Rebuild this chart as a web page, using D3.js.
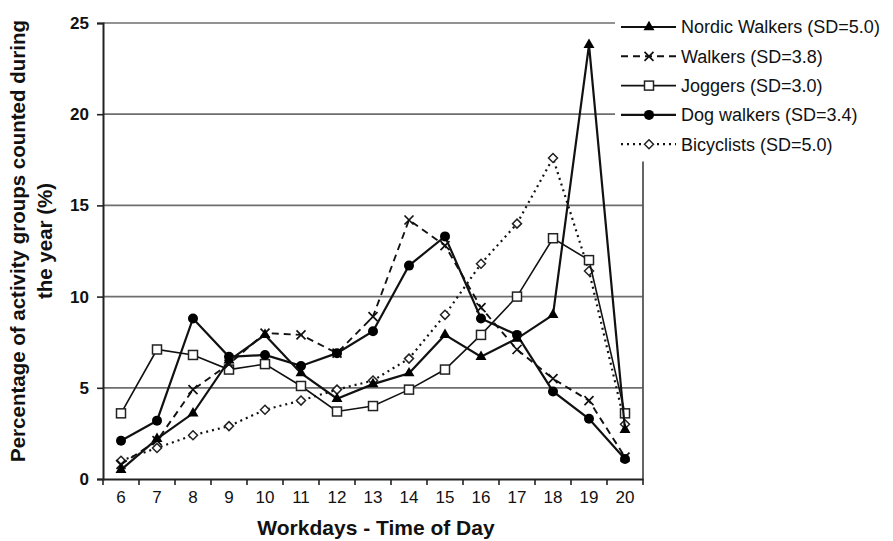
<!DOCTYPE html>
<html>
<head>
<meta charset="utf-8">
<script src="https://cdn.jsdelivr.net/npm/d3@7"></script>
<style>
  body { margin: 0; background: #fff; }
  text { font-family: "Liberation Sans", Arial, sans-serif; fill: #111; }
</style>
</head>
<body>
<div id="chart"></div>
<script>

var hours = [6, 7, 8, 9, 10, 11, 12, 13, 14, 15, 16, 17, 18, 19, 20];

var nordic   = [0.5, 2.2, 3.6, 6.5, 7.9, 5.8, 4.4, 5.2, 5.8, 7.9, 6.7, 7.7, 9.0, 23.8, 2.7];
var walkers  = [0.8, 2.1, 4.9, 6.3, 8.0, 7.9, 6.9, 8.9, 14.2, 12.8, 9.4, 7.1, 5.5, 4.3, 1.2];
var joggers  = [3.6, 7.1, 6.8, 6.0, 6.3, 5.1, 3.7, 4.0, 4.9, 6.0, 7.9, 10.0, 13.2, 12.0, 3.6];
var dogs     = [2.1, 3.2, 8.8, 6.7, 6.8, 6.2, 6.9, 8.1, 11.7, 13.3, 8.8, 7.9, 4.8, 3.3, 1.1];
var bikes    = [1.0, 1.7, 2.4, 2.9, 3.8, 4.3, 4.9, 5.4, 6.6, 9.0, 11.8, 14.0, 17.6, 11.4, 3.0];

var seriesNames = ["Nordic Walkers (SD=5.0)", "Walkers (SD=3.8)", "Joggers (SD=3.0)",
                   "Dog walkers (SD=3.4)", "Bicyclists (SD=5.0)"];
var yTicks = [0, 5, 10, 15, 20, 25];

var series = [
  { name: seriesNames[0], values: nordic,  marker: "triangle", dash: null,  width: 2.2 },
  { name: seriesNames[1], values: walkers, marker: "cross",    dash: "7,5", width: 1.9 },
  { name: seriesNames[2], values: joggers, marker: "square",   dash: null,  width: 1.6 },
  { name: seriesNames[3], values: dogs,    marker: "circle",   dash: null,  width: 2.2 },
  { name: seriesNames[4], values: bikes,   marker: "diamond",  dash: "2,4", width: 2.2 }
];

var margin = { left: 103, right: 250, top: 23, bottom: 62 };
var width = 893 - margin.left - margin.right;
var height = 541 - margin.top - margin.bottom;

var svg = d3.select("#chart")
  .append("svg")
  .attr("width", 893)
  .attr("height", 541);

var g = svg.append("g")
  .attr("transform", "translate(" + margin.left + "," + margin.top + ")");

var x = d3.scaleBand()
  .domain(hours)
  .range([0, width]);

var y = d3.scaleLinear()
  .domain([0, 25])
  .range([height, 0]);

// gridlines (top two stop short where the legend sits)
g.selectAll(".grid")
  .data(yTicks.filter(function(d){ return d > 0; }))
  .enter().append("line")
  .attr("class", "grid")
  .attr("x1", 0)
  .attr("x2", function(d){ return d >= 20 ? width - 28 : width; })
  .attr("y1", function(d){ return y(d); })
  .attr("y2", function(d){ return y(d); })
  .attr("stroke", "#6e6e6e")
  .attr("stroke-width", 1.7);

// right frame edge
g.append("line")
  .attr("x1", width).attr("x2", width)
  .attr("y1", y(17.4)).attr("y2", height)
  .attr("stroke", "#555")
  .attr("stroke-width", 1.8);

var xAxis = g.append("g")
  .attr("transform", "translate(0," + height + ")")
  .call(d3.axisBottom(x).tickSize(0).tickPadding(12));

xAxis.select(".domain").attr("stroke", "#222").attr("stroke-width", 2);
xAxis.selectAll("text")
  .style("font-size", "17px")
  .style("font-family", "'Liberation Sans', Arial, sans-serif")
  .attr("fill", "#111");

// x ticks sit on the band edges
xAxis.selectAll(".edge")
  .data(hours.concat([21]))
  .enter().append("line")
  .attr("class", "edge")
  .attr("x1", function(d, i){ return i * x.step(); })
  .attr("x2", function(d, i){ return i * x.step(); })
  .attr("y1", 0).attr("y2", 6)
  .attr("stroke", "#222")
  .attr("stroke-width", 1.6);

var yAxis = g.append("g")
  .call(d3.axisLeft(y).tickValues(yTicks).tickSize(6).tickPadding(8));

yAxis.select(".domain").attr("stroke", "#222").attr("stroke-width", 2);
yAxis.selectAll("line").attr("stroke", "#222").attr("stroke-width", 1.6);
yAxis.selectAll("text")
  .style("font-size", "17px")
  .style("font-weight", "bold")
  .style("font-family", "'Liberation Sans', Arial, sans-serif")
  .attr("fill", "#222");

g.append("text")
  .attr("x", 273)
  .attr("y", height + 56)
  .style("text-anchor", "middle")
  .style("font-size", "21px")
  .style("font-weight", "bold")
  .text("Workdays - Time of Day");

var ylab = g.append("text")
  .attr("transform", "rotate(-90)")
  .style("text-anchor", "middle")
  .style("font-size", "20.5px")
  .style("font-weight", "bold");

ylab.append("tspan")
  .attr("x", -218)
  .attr("y", -78)
  .text("Percentage of activity groups counted during");

ylab.append("tspan")
  .attr("x", -218)
  .attr("y", -51)
  .text("the year (%)");

function drawMarker(sel, type) {
  if (type === "triangle") {
    sel.append("path").attr("d", d3.symbol().type(d3.symbolTriangle).size(52))
      .attr("fill", "#000");
  } else if (type === "cross") {
    sel.append("path").attr("d", "M-4.5,-4.5L4.5,4.5M-4.5,4.5L4.5,-4.5")
      .attr("stroke", "#111").attr("stroke-width", 1.7).attr("fill", "none");
  } else if (type === "square") {
    sel.append("rect").attr("x", -4.5).attr("y", -4.5).attr("width", 9).attr("height", 9)
      .attr("fill", "#fff").attr("stroke", "#222").attr("stroke-width", 1.5);
  } else if (type === "circle") {
    sel.append("circle").attr("r", 5).attr("fill", "#000");
  } else if (type === "diamond") {
    sel.append("path").attr("d", "M0,-4.5L4.5,0L0,4.5L-4.5,0Z")
      .attr("fill", "#fff").attr("stroke", "#222").attr("stroke-width", 1.5);
  }
}

var line = d3.line()
  .x(function(d, i){ return x(hours[i]) + x.bandwidth() / 2; })
  .y(function(d){ return y(d); });

var drawOrder = [4, 2, 1, 3, 0];

drawOrder.forEach(function (k) {
  var s = series[k];

  g.append("path")
    .datum(s.values)
    .attr("d", line)
    .attr("fill", "none")
    .attr("stroke", "#111")
    .attr("stroke-width", s.width)
    .attr("stroke-dasharray", s.dash);

  g.selectAll(".m" + k)
    .data(s.values).enter()
    .append("g")
    .attr("class", "m" + k)
    .attr("transform", function(d, i){
      return "translate(" + (x(hours[i]) + x.bandwidth() / 2) + "," + y(d) + ")";
    })
    .each(function(){ drawMarker(d3.select(this), s.marker); });
});

// legend
var legend = svg.append("g")
  .attr("transform", "translate(621,27)");

var row = legend.selectAll(".row")
  .data(series).enter()
  .append("g")
  .attr("class", "row")
  .attr("transform", function(d, i){ return "translate(0," + (i * 29.3) + ")"; });

row.append("line")
  .attr("x1", 0).attr("x2", 55)
  .attr("stroke", "#111")
  .attr("stroke-width", function(d){ return d.width; })
  .attr("stroke-dasharray", function(d){ return d.dash; });

row.append("g")
  .attr("transform", "translate(28,0)")
  .each(function(d){ drawMarker(d3.select(this), d.marker); });

row.append("text")
  .attr("x", 60)
  .attr("dy", "0.35em")
  .style("font-size", "18px")
  .text(function(d){ return d.name; });

</script>
</body>
</html>
